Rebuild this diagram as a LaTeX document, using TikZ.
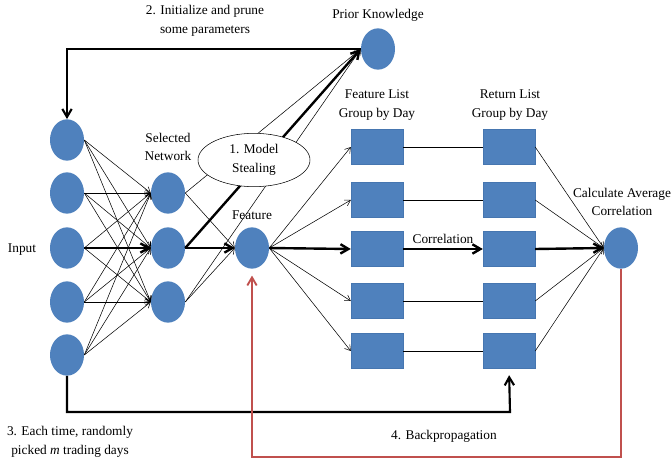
\documentclass[tikz,border=0pt]{standalone}
\usepackage{fontspec}
\setmainfont{Liberation Serif}
\usetikzlibrary{shapes.geometric,arrows.meta}
\definecolor{nodeblue}{RGB}{79,129,189}
\definecolor{nodeedge}{RGB}{70,118,176}
\definecolor{backred}{RGB}{192,80,77}

\begin{document}
\begin{tikzpicture}[x=0.75pt,y=-0.75pt,font=\fontsize{10}{14}\selectfont,
 neuron/.style={ellipse,fill=nodeblue,minimum width=25.5pt,minimum height=31pt,inner sep=0pt},
 daybox/.style={rectangle,fill=nodeblue,draw=nodeedge,line width=0.3pt,minimum width=39pt,minimum height=26pt,inner sep=0pt},
 txt/.style={align=center,inner sep=1pt},
 link/.style={-{Straight Barb[length=4pt,width=5pt]},line width=0.4pt},
 plain/.style={line width=0.4pt},
 mainlink/.style={-{Straight Barb[length=6pt,width=7pt]},line width=1.8pt},
 feedline/.style={-{Straight Barb[length=6pt,width=7pt]},line width=1.6pt},
 backline/.style={-{Straight Barb[length=6pt,width=7pt]},line width=1.4pt,draw=backred}]
\useasboundingbox (0,0) rectangle (672,464);
\node[neuron] (in1) at (67,140) {};
\node[neuron] (in2) at (67,193) {};
\node[neuron] (in3) at (67,248) {};
\node[neuron] (in4) at (67,302) {};
\node[neuron] (in5) at (67,355) {};
\node[neuron] (sel1) at (168,193) {};
\node[neuron] (sel2) at (168,248) {};
\node[neuron] (sel3) at (168,302) {};
\node[neuron] (feat) at (252,248) {};
\node[neuron] (prior) at (378,49) {};
\node[neuron] (avg) at (621,248) {};
\node[daybox] (fl1) at (377,147) {};
\node[daybox] (fl2) at (377,200) {};
\node[daybox] (fl3) at (377,249) {};
\node[daybox] (fl4) at (377,301) {};
\node[daybox] (fl5) at (377,351) {};
\node[daybox] (rl1) at (509,147) {};
\node[daybox] (rl2) at (509,200) {};
\node[daybox] (rl3) at (509,249) {};
\node[daybox] (rl4) at (509,301) {};
\node[daybox] (rl5) at (509,351) {};
\foreach \i in {1,...,5}
 \foreach \j in {1,2,3}
  \draw[link] (in\i.east) -- (sel\j.west);
\draw[mainlink] (in3.east) -- (sel2.west);
\draw[link] (sel1.east) -- (feat.west);
\draw[link] (sel3.east) -- (feat.west);
\draw[mainlink] (sel2.east) -- (feat.west);
\draw[link] (sel1.east) -- (prior.west);
\draw[link] (sel3.east) -- (prior.west);
\draw[mainlink] (sel2.east) -- (prior.west);
\node[ellipse,draw,fill=white,line width=0.4pt,minimum width=84pt,minimum height=40pt,txt] (steal) at (254,160) {1. Model\\Stealing};
\draw[link] (feat.east) -- (fl1.west);
\draw[link] (feat.east) -- (fl2.west);
\draw[link] (feat.east) -- (fl4.west);
\draw[link] (feat.east) -- (fl5.west);
\draw[mainlink] (feat.east) -- (fl3.west);
\draw[plain] (fl1.east) -- (rl1.west);
\draw[plain] (fl2.east) -- (rl2.west);
\draw[plain] (fl4.east) -- (rl4.west);
\draw[plain] (fl5.east) -- (rl5.west);
\draw[mainlink] (fl3.east) -- node[above=2pt,txt] (corr) {Correlation} (rl3.west);
\draw[link] (rl1.east) -- (avg.west);
\draw[link] (rl2.east) -- (avg.west);
\draw[link] (rl4.east) -- (avg.west);
\draw[link] (rl5.east) -- (avg.west);
\draw[mainlink] (rl3.east) -- (avg.west);
\draw[feedline] (prior.west) -| (in1.north);
\coordinate (pick) at (510,412);
\draw[feedline,shorten >=5pt] (in5.south) |- (pick) -- (rl5.south);
\coordinate (bp) at (621,457);
\draw[backline,shorten >=5pt] (avg.south) -- (bp) -| (feat.south);
\node[txt] (initlbl) at (205,21) {2. Initialize and prune\\some parameters};
\node[txt] (priorlbl) at (378,15) {Prior Knowledge};
\node[txt] (sellbl) at (168,147) {Selected\\Network};
\node[txt] (featlbl) at (252,215) {Feature};
\node[txt] (inlbl) at (22,250) {Input};
\node[txt] (fllbl) at (377,105) {Feature List\\Group by Day};
\node[txt] (rllbl) at (510,105) {Return List\\Group by Day};
\node[txt] (avglbl) at (622,202) {Calculate Average\\Correlation};
\node[txt] (picklbl) at (70,442) {3. Each time, randomly\\picked \textit{m} trading days};
\node[txt] (bplbl) at (444,436) {4. Backpropagation};
\end{tikzpicture}
\end{document}
